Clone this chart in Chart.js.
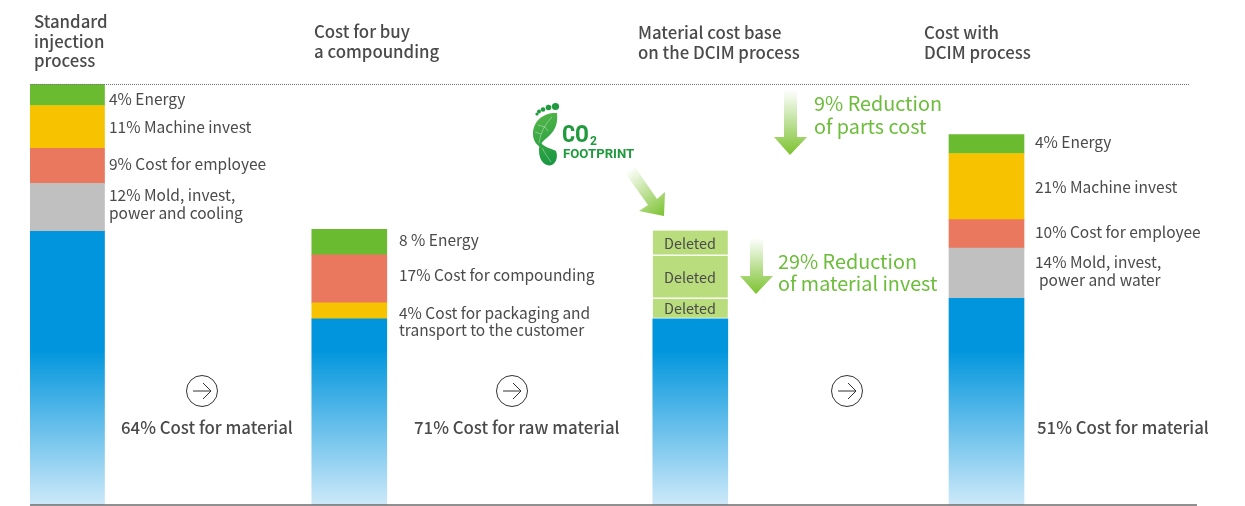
<!DOCTYPE html>
<html>
<head>
<meta charset="utf-8">
<title>Cost comparison</title>
<script src="https://cdn.jsdelivr.net/npm/chart.js@4/dist/chart.umd.min.js"></script>
<style>
  html, body { margin: 0; padding: 0; background: #fff; }
  canvas { display: block; }
</style>
</head>
<body>
<canvas id="costChart" width="1245" height="506"></canvas>
<script>
const processes = ['Standard injection process', 'Cost for buy a compounding', 'Material cost base on the DCIM process', 'Cost with DCIM process'];

// stacked values, bottom of the stack first
const material    = [65.0, 44.2, 44.2, 49.1];
const moldInvest  = [11.4, null, null, 11.9];
const packaging   = [null, 3.8, null, null];
const compounding = [null, 11.4, null, null];
const employee    = [8.3, null, null, 6.8];
const machine     = [10.2, null, null, 15.7];
const energy      = [5.0, 6.1, null, 4.5];
const deletedLow  = [null, null, 4.8, null];
const deletedMid  = [null, null, 10.2, null];
const deletedTop  = [null, null, 6.0, null];

// where each bar sits on the x axis (the bars are not evenly spaced)
const barCentres = [67, 349.3, 690.3, 986.5];

const BLUE = '#0095dd', GRAY = '#c0c0c0', RED = '#e9785f', YELLOW = '#f7c300', GREEN = '#6abb2f', LIME = '#b9dc7c';
const TEXT = '#4a4a4a', ACCENT = '#6cbd3a';
const FONT = '"Noto Sans CJK KR", "Noto Sans", sans-serif';

// [text, x, y]
const titles = [
  ['Standard', 34, 22], ['injection', 34, 42], ['process', 34, 61],
  ['Cost for buy', 314, 32], ['a compounding', 314, 52],
  ['Material cost base', 638, 33], ['on the DCIM process', 638, 53],
  ['Cost with', 924, 33], ['DCIM process', 924, 53]
];
const notes = [
  ['4% Energy', 109, 99], ['11% Machine invest', 109, 127], ['9% Cost for employee', 109, 164],
  ['12% Mold, invest,', 109, 195], ['power and cooling', 109, 213],
  ['8 % Energy', 399, 240], ['17% Cost for compounding', 399, 275],
  ['4% Cost for packaging and', 399, 313], ['transport to the customer', 399, 330],
  ['4% Energy', 1035, 142], ['21% Machine invest', 1035, 187], ['10% Cost for employee', 1035, 232],
  ['14% Mold, invest,', 1035, 262], ['power and water', 1039, 280]
];
const materialNotes = [
  ['64% Cost for material', 121, 428], ['71% Cost for raw material', 414, 428], ['51% Cost for material', 1037, 428]
];
const deletedNotes = [['Deleted', 690, 244], ['Deleted', 690, 278], ['Deleted', 690, 309]];
const reductions = [
  ['9% Reduction', 814, 103], ['of parts cost', 814, 126],
  ['29% Reduction', 778, 261], ['of material invest', 778, 283]
];
const circleCentres = [202, 512, 847];

function series(label, values, color, extra) {
  return Object.assign({
    label: label,
    data: values.map((v, i) => ({ x: barCentres[i], y: v })),
    backgroundColor: color,
    borderWidth: 0,
    barThickness: 75
  }, extra || {});
}

function blueFade(ctx) {
  const chart = ctx.chart;
  const top = chart.scales.y ? chart.scales.y.getPixelForValue(37) : NaN;
  const bottom = chart.scales.y ? chart.scales.y.getPixelForValue(0) : NaN;
  if (!Number.isFinite(top) || !Number.isFinite(bottom)) return BLUE; // layout not done yet
  const g = chart.ctx.createLinearGradient(0, top, 0, bottom);
  g.addColorStop(0, BLUE);
  g.addColorStop(1, '#cde9f9');
  return g;
}

function fadeArrow(c, pts, x0, y0, x1, y1) {
  const g = c.createLinearGradient(x0, y0, x1, y1);
  g.addColorStop(0, 'rgba(124,194,47,0)');
  g.addColorStop(1, '#7cc22f');
  c.fillStyle = g;
  c.beginPath();
  pts.forEach((p, i) => i ? c.lineTo(p[0], p[1]) : c.moveTo(p[0], p[1]));
  c.closePath();
  c.fill();
}

function drawFootprint(c) {
  c.fillStyle = '#1f9a3c';
  [[555.5, 106.5, 3.6], [548.5, 107.5, 2.8], [543, 109.5, 2.3], [539, 111.5, 2], [537, 114, 1.6]].forEach(t => {
    c.beginPath();
    c.arc(t[0], t[1], t[2], 0, Math.PI * 2);
    c.fill();
  });
  const g = c.createLinearGradient(533, 112, 558, 165);
  g.addColorStop(0, '#58b947');
  g.addColorStop(1, '#159541');
  c.fillStyle = g;
  c.beginPath();
  c.moveTo(557, 113);
  c.bezierCurveTo(545, 112, 533, 120, 533, 134);
  c.bezierCurveTo(533, 142, 538, 146, 541, 147);
  c.bezierCurveTo(541, 141, 545, 140, 550, 135);
  c.bezierCurveTo(556, 129, 558, 122, 557, 113);
  c.fill();
  c.beginPath();
  c.moveTo(540, 142);
  c.bezierCurveTo(537, 155, 541, 165, 550, 165.5);
  c.bezierCurveTo(557, 164, 558, 156, 556, 151);
  c.bezierCurveTo(551, 148, 545, 148, 540, 142);
  c.fill();
  // leaf veins
  c.strokeStyle = 'rgba(255,255,255,0.6)';
  c.lineWidth = 0.6;
  c.beginPath();
  c.moveTo(552, 117);
  c.quadraticCurveTo(541, 128, 539, 143);
  c.moveTo(545, 127);
  c.lineTo(538, 125);
  c.moveTo(541, 134);
  c.lineTo(535, 132);
  c.moveTo(545, 127);
  c.lineTo(548, 131);
  c.moveTo(542, 148);
  c.quadraticCurveTo(546, 155, 551, 162);
  c.stroke();

  c.fillStyle = '#1f9a3c';
  c.textAlign = 'left';
  c.textBaseline = 'alphabetic';
  c.font = 'bold 23px "Roboto Condensed", Roboto, sans-serif';
  c.fillText('CO', 562, 142);
  c.font = 'bold 12px Roboto, sans-serif';
  c.fillText('2', 590, 145);
  c.font = 'bold 13.2px Roboto, sans-serif';
  c.fillText('FOOTPRINT', 563, 158);
}

const overlayPlugin = {
  id: 'overlay',
  afterDraw(chart) {
    const c = chart.ctx, y = chart.scales.y, x = chart.scales.x;
    c.save();

    // dotted reference at 100 and base line at 0
    c.strokeStyle = '#777';
    c.lineWidth = 1;
    c.setLineDash([1, 1]);
    c.beginPath();
    c.moveTo(x.left, y.getPixelForValue(100) + 0.5);
    c.lineTo(1190, y.getPixelForValue(100) + 0.5);
    c.stroke();
    c.setLineDash([]);
    c.strokeStyle = '#6b6b6b';
    c.lineWidth = 1.5;
    c.beginPath();
    c.moveTo(x.left, y.getPixelForValue(0));
    c.lineTo(x.right, y.getPixelForValue(0));
    c.stroke();

    fadeArrow(c, [[784, 90], [797, 90], [797, 137], [807, 137], [790, 155], [774, 137], [784, 137]], 0, 90, 0, 155);
    fadeArrow(c, [[750, 238], [763, 238], [763, 276], [773, 276], [756, 294], [740, 276], [750, 276]], 0, 238, 0, 294);
    fadeArrow(c, [[625, 173], [635, 167], [657, 199], [665, 192], [664, 216], [639, 211], [648, 205]], 628, 170, 664, 216);
    drawFootprint(c);

    c.strokeStyle = '#333';
    c.lineWidth = 1;
    circleCentres.forEach(cx => {
      c.beginPath();
      c.arc(cx, 391, 15.5, 0, Math.PI * 2);
      c.moveTo(cx - 9, 391);
      c.lineTo(cx + 9, 391);
      c.moveTo(cx + 1, 383);
      c.lineTo(cx + 9, 391);
      c.lineTo(cx + 1, 399);
      c.stroke();
    });

    c.textBaseline = 'middle';
    c.textAlign = 'left';
    const put = (rows, font, color) => {
      c.font = font;
      c.fillStyle = color;
      rows.forEach(r => c.fillText(r[0], r[1], r[2]));
    };
    put(titles, '500 16.8px ' + FONT, TEXT);
    put(notes, '400 15.5px ' + FONT, TEXT);
    put(materialNotes, '500 16.8px ' + FONT, TEXT);
    put(reductions, '400 19.8px ' + FONT, ACCENT);
    c.textAlign = 'center';
    put(deletedNotes, '400 14.4px ' + FONT, TEXT);
    c.restore();
  }
};

new Chart(document.getElementById('costChart'), {
  type: 'bar',
  data: {
    labels: processes,
    datasets: [
      series('Material', material, blueFade),
      series('Mold, invest, power', moldInvest, GRAY),
      series('Packaging and transport', packaging, YELLOW),
      series('Compounding', compounding, RED),
      series('Employee', employee, RED),
      series('Machine invest', machine, YELLOW),
      series('Energy', energy, GREEN),
      series('Deleted low', deletedLow, LIME, { borderWidth: { bottom: 1.5 }, borderColor: '#fff', borderSkipped: false }),
      series('Deleted mid', deletedMid, LIME, { borderWidth: { bottom: 1.5 }, borderColor: '#fff', borderSkipped: false }),
      series('Deleted top', deletedTop, LIME, { borderWidth: { bottom: 1.5 }, borderColor: '#fff', borderSkipped: false })
    ]
  },
  options: {
    responsive: false,
    animation: false,
    layout: { padding: { left: 30, right: 48, top: 84, bottom: 1 } },
    plugins: { legend: { display: false }, tooltip: { enabled: false }, title: { display: false } },
    scales: {
      x: { type: 'linear', stacked: true, display: false, offset: false, min: 30, max: 1197 },
      y: { stacked: true, display: false, min: 0, max: 100 }
    }
  },
  plugins: [overlayPlugin]
});
</script>
</body>
</html>
